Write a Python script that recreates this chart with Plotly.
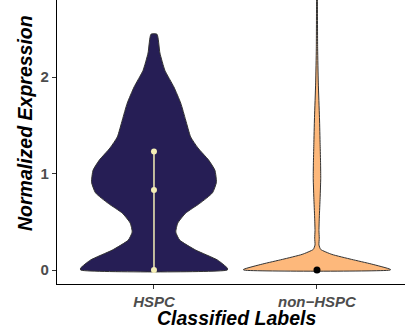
import plotly.graph_objects as go

# ---- data ----
categories = ["HSPC", "non\u2212HSPC"]
cat_pos = [1, 2]

# HSPC violin: expression levels and relative density (max = 1)
hspc_levels = [0, 0.02, 0.104, 0.207, 0.31, 0.394, 0.487, 0.59, 0.69, 0.80, 0.91,
               1.036, 1.14, 1.265, 1.38, 1.555, 1.73, 1.90, 2.07, 2.25, 2.445]
hspc_density = [1.0, 1.0, 0.865, 0.568, 0.351, 0.297, 0.324, 0.432, 0.622, 0.797, 0.851,
                0.830, 0.745, 0.600, 0.50, 0.432, 0.365, 0.27, 0.149, 0.081, 0.041]

# non-HSPC violin
non_levels = [0, 0.007, 0.062, 0.11, 0.162, 0.214, 0.26, 0.33, 0.41, 0.55, 0.75, 0.95,
              1.1, 1.3, 1.58, 1.94, 2.3, 2.8, 3.3]
non_density = [1.0, 1.0, 0.743, 0.473, 0.203, 0.05, 0.027, 0.031, 0.027, 0.032, 0.043,
               0.051, 0.049, 0.043, 0.034, 0.018, 0.009, 0.006, 0.004]

# summary points (lower, median, upper)
hspc_summary = [0, 0.83, 1.23]
non_summary = [0]

y_ticks = [0, 1, 2]

# ---- styles ----
HALF_WIDTH = 0.45
fill_colors = ["#261E55", "#FDB87B"]
outline = "#333333"
font_family = "Liberation Sans, Arial, Helvetica, sans-serif"

fig = go.Figure()


def violin_xy(center, levels, dens):
    xs = [center + HALF_WIDTH * d for d in dens] + [center - HALF_WIDTH * d for d in reversed(dens)]
    ys = list(levels) + list(reversed(levels))
    xs.append(xs[0])
    ys.append(ys[0])
    return xs, ys


for c, lv, dn, col in [(cat_pos[0], hspc_levels, hspc_density, fill_colors[0]),
                       (cat_pos[1], non_levels, non_density, fill_colors[1])]:
    xs, ys = violin_xy(c, lv, dn)
    fig.add_trace(go.Scatter(x=xs, y=ys, mode="lines", fill="toself", fillcolor=col,
                             line=dict(color=outline, width=1, shape="spline", smoothing=0.5),
                             hoverinfo="skip", showlegend=False))

fig.add_trace(go.Scatter(x=[cat_pos[0]] * len(hspc_summary), y=hspc_summary,
                         mode="lines+markers",
                         line=dict(color="#F4EEB6", width=1.5),
                         marker=dict(color="#F4EEB6", size=6),
                         showlegend=False))
fig.add_trace(go.Scatter(x=[cat_pos[1]] * len(non_summary), y=non_summary,
                         mode="markers",
                         marker=dict(color="black", size=7),
                         showlegend=False))

tick_font = dict(family=font_family, size=15, color="#4D4D4D", weight="bold")
title_font = dict(family=font_family, size=19.5, color="black", weight="bold", style="italic")

fig.update_layout(
    width=405, height=331,
    margin=dict(l=57, r=0, t=0, b=47),
    paper_bgcolor="white", plot_bgcolor="white",
    showlegend=False,
    xaxis=dict(range=[0.405, 2.54], tickvals=cat_pos, ticktext=categories,
               showline=True, linecolor="black", linewidth=1.1,
               ticks="outside", ticklen=4, tickcolor="#333333", tickwidth=1,
               tickfont=dict(tick_font, style="italic"),
               showgrid=False, zeroline=False, fixedrange=True),
    yaxis=dict(range=[-0.145, 2.80], tickvals=y_ticks,
               showline=True, linecolor="black", linewidth=1.1,
               ticks="outside", ticklen=4, tickcolor="#333333", tickwidth=1,
               tickfont=tick_font,
               showgrid=False, zeroline=False, fixedrange=True),
    annotations=[
        dict(text="Classified Labels", xref="paper", yref="paper",
             x=(236.5 - 57) / 348, y=(284 - 318) / 284, xanchor="center", yanchor="middle",
             showarrow=False, font=title_font),
        dict(text="Normalized Expression", xref="paper", yref="paper",
             x=(25 - 57) / 348, y=(284 - 123) / 284, xanchor="center", yanchor="middle",
             textangle=-90, showarrow=False, font=title_font),
    ],
)

fig.write_html("out.html")
